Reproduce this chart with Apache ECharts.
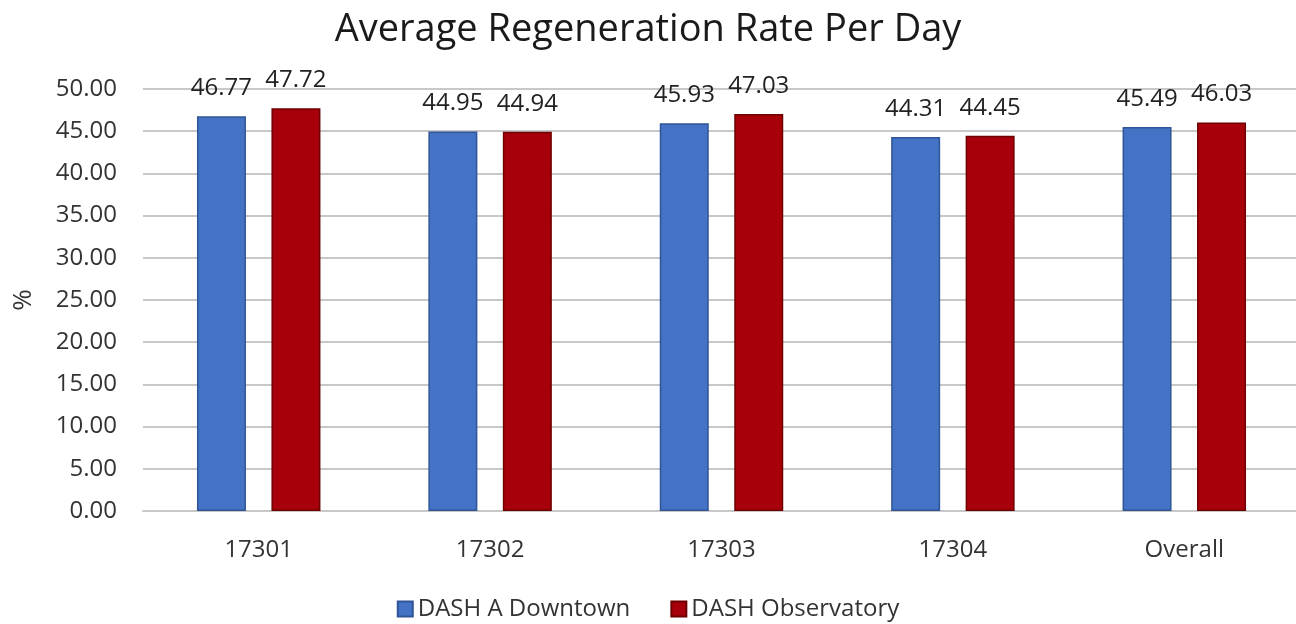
<!DOCTYPE html>
<html>
<head>
    <meta charset="utf-8">
    <script src="https://cdn.jsdelivr.net/npm/echarts@6/dist/echarts.min.js"></script>
</head>
<body style="margin:0;background:#fff;">
<div id="main" style="width:1296px;height:624px;"></div>
<script type="text/javascript">
    // data
    var categories = ['17301', '17302', '17303', '17304', 'Overall'];
    var downtown = [46.77, 44.95, 45.93, 44.31, 45.49];
    var observatory = [47.72, 44.94, 47.03, 44.45, 46.03];
    var seriesNames = ['DASH A Downtown', 'DASH Observatory'];

    var font = '"Open Sans", "Noto Sans", sans-serif';
    var myChart = echarts.init(document.getElementById('main'));

    var option = {
        backgroundColor: '#fff',
        animation: false,
        title: {
            text: 'Average Regeneration Rate Per Day',
            left: 'center',
            top: 6,
            textStyle: {fontFamily: font, fontSize: 38, fontWeight: 'normal', color: '#1a1a1a'}
        },
        legend: {
            bottom: -2,
            left: 'center',
            itemWidth: 15,
            itemHeight: 15,
            itemGap: 40,
            icon: 'rect',
            textStyle: {fontFamily: font, fontSize: 24, color: '#333'},
            data: seriesNames
        },
        // grid runs a little past the right edge, like the cropped original
        grid: {left: 143, right: -4, top: 89, bottom: 113, outerBoundsMode: 'none'},
        xAxis: {
            type: 'category',
            data: categories,
            axisTick: {show: false},
            axisLine: {lineStyle: {color: '#c8c8c8', width: 2}},
            axisLabel: {fontFamily: font, fontSize: 24, color: '#333', margin: 27}
        },
        yAxis: {
            type: 'value',
            min: 0,
            max: 50,
            interval: 5,
            name: '%',
            nameLocation: 'middle',
            nameGap: 106,
            nameRotate: 90,
            nameTextStyle: {fontFamily: font, fontSize: 26, color: '#333'},
            axisLabel: {
                fontFamily: font, fontSize: 24, color: '#333', margin: 26,
                formatter: function (v) { return v.toFixed(2); }
            },
            splitLine: {lineStyle: {color: '#c8c8c8', width: 2}}
        },
        series: [
            {
                name: seriesNames[0],
                type: 'bar',
                data: downtown,
                barWidth: 49,
                barGap: '52%',
                itemStyle: {color: '#4472c4', borderColor: '#2f5597', borderWidth: 1.5},
                label: {
                    show: true, position: 'top', distance: 16,
                    fontFamily: font, fontSize: 24, color: '#222',
                    formatter: function (p) { return p.value.toFixed(2); }
                }
            },
            {
                name: seriesNames[1],
                type: 'bar',
                data: observatory,
                barWidth: 49,
                itemStyle: {color: '#a8000a', borderColor: '#6e0000', borderWidth: 1.5},
                label: {
                    show: true, position: 'top', distance: 16,
                    fontFamily: font, fontSize: 24, color: '#222',
                    formatter: function (p) { return p.value.toFixed(2); }
                }
            }
        ]
    };

    myChart.setOption(option);
</script>
</body>
</html>
